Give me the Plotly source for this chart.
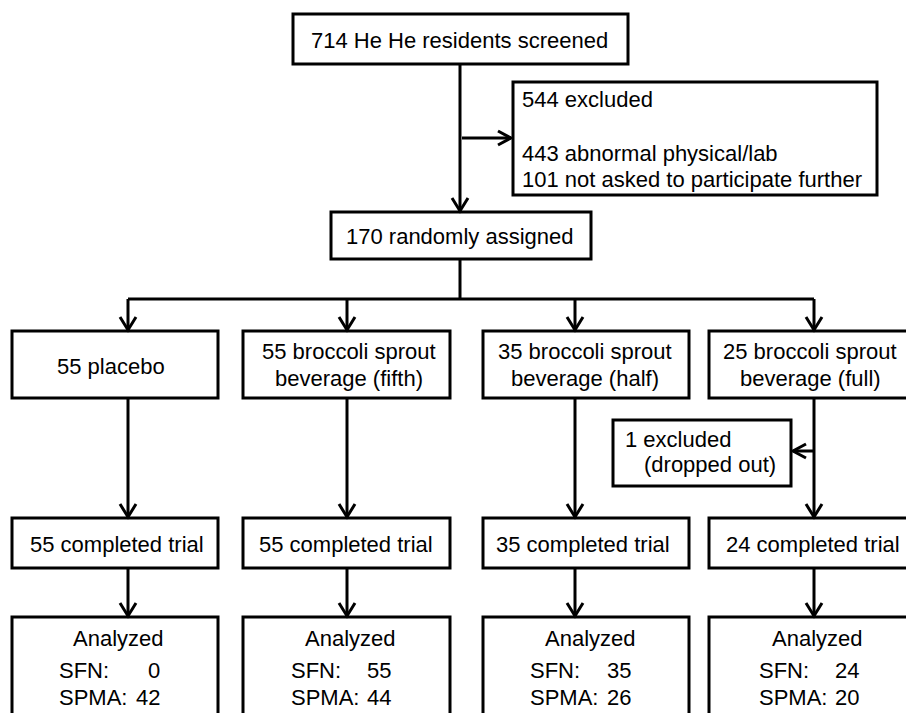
import plotly.graph_objects as go

screened = 714
excluded_total = 544
excluded_reasons = ["443 abnormal physical/lab", "101 not asked to participate further"]
randomized = 170
arm_n = [55, 55, 35, 25]
arm_labels = [["placebo"],
              ["broccoli sprout", "beverage (fifth)"],
              ["broccoli sprout", "beverage (half)"],
              ["broccoli sprout", "beverage (full)"]]
dropped_out = [0, 0, 0, 1]
completed = [55, 55, 35, 24]
sfn = [0, 55, 35, 24]
spma = [42, 44, 26, 20]

# ---- layout constants (pixel-space) ----
W, H = 906, 713
FONT = "Liberation Sans, Arial, sans-serif"
FS = 22
LW = 3
col_x = [128, 347, 575, 814]            # arrow lines per column
box_l = [12, 243, 483, 709]
box_r = [218, 450, 689, 925]
text_c = [111, 349, 585, 810]
comp_c = [117, 346, 583, 813]
anal_c = [118, 350, 590, 817]
sfn_l = [57, 289, 528, 757]
sfn_r = [162, 393, 633, 861]

fig = go.Figure()
fig.add_trace(go.Scatter(x=[0, W], y=[0, H], mode="markers",
                         marker=dict(opacity=0), hoverinfo="skip", showlegend=False))

def rect(x0, y0, x1, y1):
    fig.add_shape(type="rect", x0=x0, y0=y0, x1=x1, y1=y1, xref="x", yref="y",
                  line=dict(color="black", width=LW), fillcolor="white", layer="below")

def line(x0, y0, x1, y1):
    fig.add_shape(type="line", x0=x0, y0=y0, x1=x1, y1=y1, xref="x", yref="y",
                  line=dict(color="black", width=LW))

def head(x, y, d):
    # open V arrowhead with tip at (x, y); d: 'down', 'right', 'left'
    if d == "down":
        p = f"M {x-8},{y-13} L {x},{y} L {x+8},{y-13}"
    elif d == "right":
        p = f"M {x-13},{y-7} L {x},{y} L {x-13},{y+7}"
    else:
        p = f"M {x+13},{y-7} L {x},{y} L {x+13},{y+7}"
    fig.add_shape(type="path", path=p, xref="x", yref="y",
                  line=dict(color="black", width=LW))

def text(x, y, s, anchor="center"):
    fig.add_annotation(x=x, y=y, text=s, showarrow=False, xref="x", yref="y",
                       xanchor=anchor, yanchor="middle",
                       font=dict(family=FONT, size=FS, color="black"))

# top box
rect(293, 14, 628, 64)
text(459, 40, f"{screened} He He residents screened")
line(460, 64, 460, 211)
head(460, 211, "down")

# excluded box
rect(513, 82, 877, 195)
line(462, 138, 511, 138)
head(511, 138, "right")
text(520, 99, f"{excluded_total} excluded", "left")
text(520, 153, excluded_reasons[0], "left")
text(520, 179, excluded_reasons[1], "left")

# randomized box
rect(331, 212, 591, 259)
text(459, 236, f"{randomized} randomly assigned")
line(460, 259, 460, 299)
line(col_x[0], 299, col_x[3], 299)

for i in range(4):
    cx = col_x[i]
    line(cx, 299, cx, 330)
    head(cx, 330, "down")
    rect(box_l[i], 331, box_r[i], 398)
    lab = arm_labels[i]
    if len(lab) == 1:
        text(text_c[i], 366, f"{arm_n[i]} {lab[0]}")
    else:
        text(text_c[i], 351, f"{arm_n[i]} {lab[0]}")
        text(text_c[i], 378, lab[1])
    line(cx, 398, cx, 517)
    head(cx, 517, "down")
    rect(box_l[i], 518, box_r[i], 568)
    text(comp_c[i], 544, f"{completed[i]} completed trial")
    line(cx, 568, cx, 616)
    head(cx, 616, "down")
    rect(box_l[i], 617, box_r[i], 740)
    text(anal_c[i], 638, "Analyzed")
    text(sfn_l[i], 670, "SFN:", "left")
    text(sfn_r[i], 670, str(sfn[i]), "right")
    text(sfn_l[i], 697, "SPMA:", "left")
    text(sfn_r[i], 697, str(spma[i]), "right")
    if dropped_out[i]:
        rect(613, 420, 791, 486)
        line(cx, 451, 793, 451)
        head(793, 451, "left")
        text(623, 439, f"{dropped_out[i]} excluded", "left")
        text(642, 464, "(dropped out)", "left")

fig.update_layout(
    width=W, height=H, margin=dict(l=0, r=0, t=0, b=0),
    paper_bgcolor="white", plot_bgcolor="white",
    xaxis=dict(range=[0, W], visible=False, fixedrange=True),
    yaxis=dict(range=[H, 0], visible=False, fixedrange=True),
    showlegend=False,
)
fig.write_html("out.html", config={"displayModeBar": False},
               post_script="document.body.style.margin='0';document.body.style.overflow='hidden';")
